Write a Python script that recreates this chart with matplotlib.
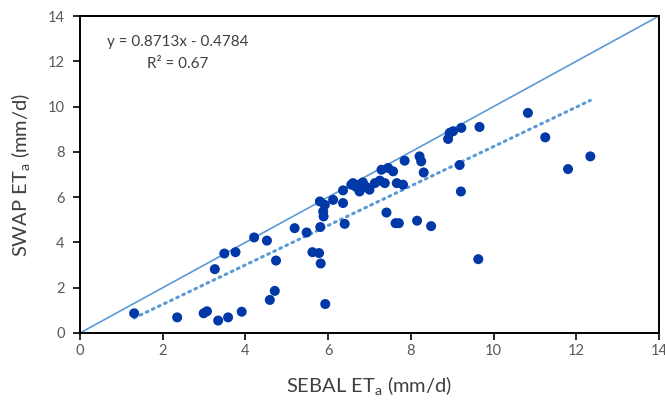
import numpy as np
import matplotlib
matplotlib.use("Agg")
import matplotlib.pyplot as plt

plt.rcParams['font.family'] = ['Lato', 'DejaVu Sans']

sebal_et = [1.31, 2.35, 2.99, 3.07, 3.34, 3.58, 3.91, 3.26, 3.49, 3.76,
            4.21, 4.52, 4.74, 4.59, 4.71, 5.19, 5.48, 5.62, 5.78, 5.82,
            5.81, 5.93, 5.80, 5.92, 5.88, 5.89, 6.12, 6.36, 6.40, 6.36,
            6.56, 6.60, 6.76, 6.84, 6.76, 7.00, 7.13, 7.25, 7.37, 7.29,
            7.45, 7.57, 7.66, 7.81, 7.85, 8.21, 8.25, 8.31, 7.41, 7.63,
            7.71, 8.15, 8.49, 8.94, 8.90, 9.02, 9.22, 9.66, 10.83, 11.25,
            12.34, 11.80, 9.18, 9.21, 9.63, 6.68, 6.92]
swap_et = [0.87, 0.69, 0.87, 0.96, 0.55, 0.69, 0.94, 2.82, 3.51, 3.57,
           4.22, 4.08, 3.20, 1.46, 1.86, 4.63, 4.44, 3.57, 3.53, 3.07,
           4.68, 1.28, 5.81, 5.66, 5.37, 5.15, 5.88, 5.74, 4.82, 6.30,
           6.55, 6.62, 6.55, 6.65, 6.25, 6.33, 6.62, 6.73, 6.62, 7.21,
           7.29, 7.14, 6.62, 6.55, 7.61, 7.80, 7.58, 7.09, 5.32, 4.85,
           4.85, 4.96, 4.72, 8.84, 8.57, 8.91, 9.06, 9.10, 9.72, 8.64,
           7.80, 7.24, 7.42, 6.25, 3.26, 6.45, 6.45]

slope = 0.8713
intercept = -0.4784
r_squared = 0.67
ticks = [0, 2, 4, 6, 8, 10, 12, 14]

fig = plt.figure(figsize=(6.65, 4.03), dpi=100)
ax = fig.add_axes([80/665, 70/403, 579/665, 317/403])

point_color = '#0038A8'
line_color = '#5B9BD5'

ax.plot([0, 14], [0, 14], color=line_color, lw=1.2, zorder=2)
xs = np.array([min(sebal_et), max(sebal_et)])
ax.plot(xs, slope * xs + intercept, color=line_color, lw=2.2,
        linestyle=(0, (0.6, 1.6)), dash_capstyle='round', zorder=2)
ax.scatter(sebal_et, swap_et, s=52, color=point_color, edgecolors='none', zorder=3)

ax.set_xlim(0, 14)
ax.set_ylim(0, 14)
ax.set_xticks(ticks)
ax.set_yticks(ticks)
for sp in ax.spines.values():
    sp.set_linewidth(1.4)
    sp.set_color('black')
ax.tick_params(direction='out', length=5, width=1.2, colors='black',
               labelcolor='#595959', labelsize=10.5)
ax.tick_params(axis='x', pad=3)
ax.tick_params(axis='y', pad=6)

ax.set_xlabel(r'SEBAL ET$_\mathregular{a}$ (mm/d)', fontsize=14.5, color='#404040')
ax.set_ylabel(r'SWAP ET$_\mathregular{a}$ (mm/d)', fontsize=14.5, color='#404040')
ax.xaxis.set_label_coords(0.5, -0.13)
ax.yaxis.set_label_coords(-0.082, 0.5)

ax.text(2.37, 12.87, f'y = {slope}x - {abs(intercept)}',
        ha='center', va='center', fontsize=11, color='#404040')
ax.text(2.37, 11.9, f'R² = {r_squared}',
        ha='center', va='center', fontsize=11, color='#404040')

fig.savefig('out.png', dpi=100)
